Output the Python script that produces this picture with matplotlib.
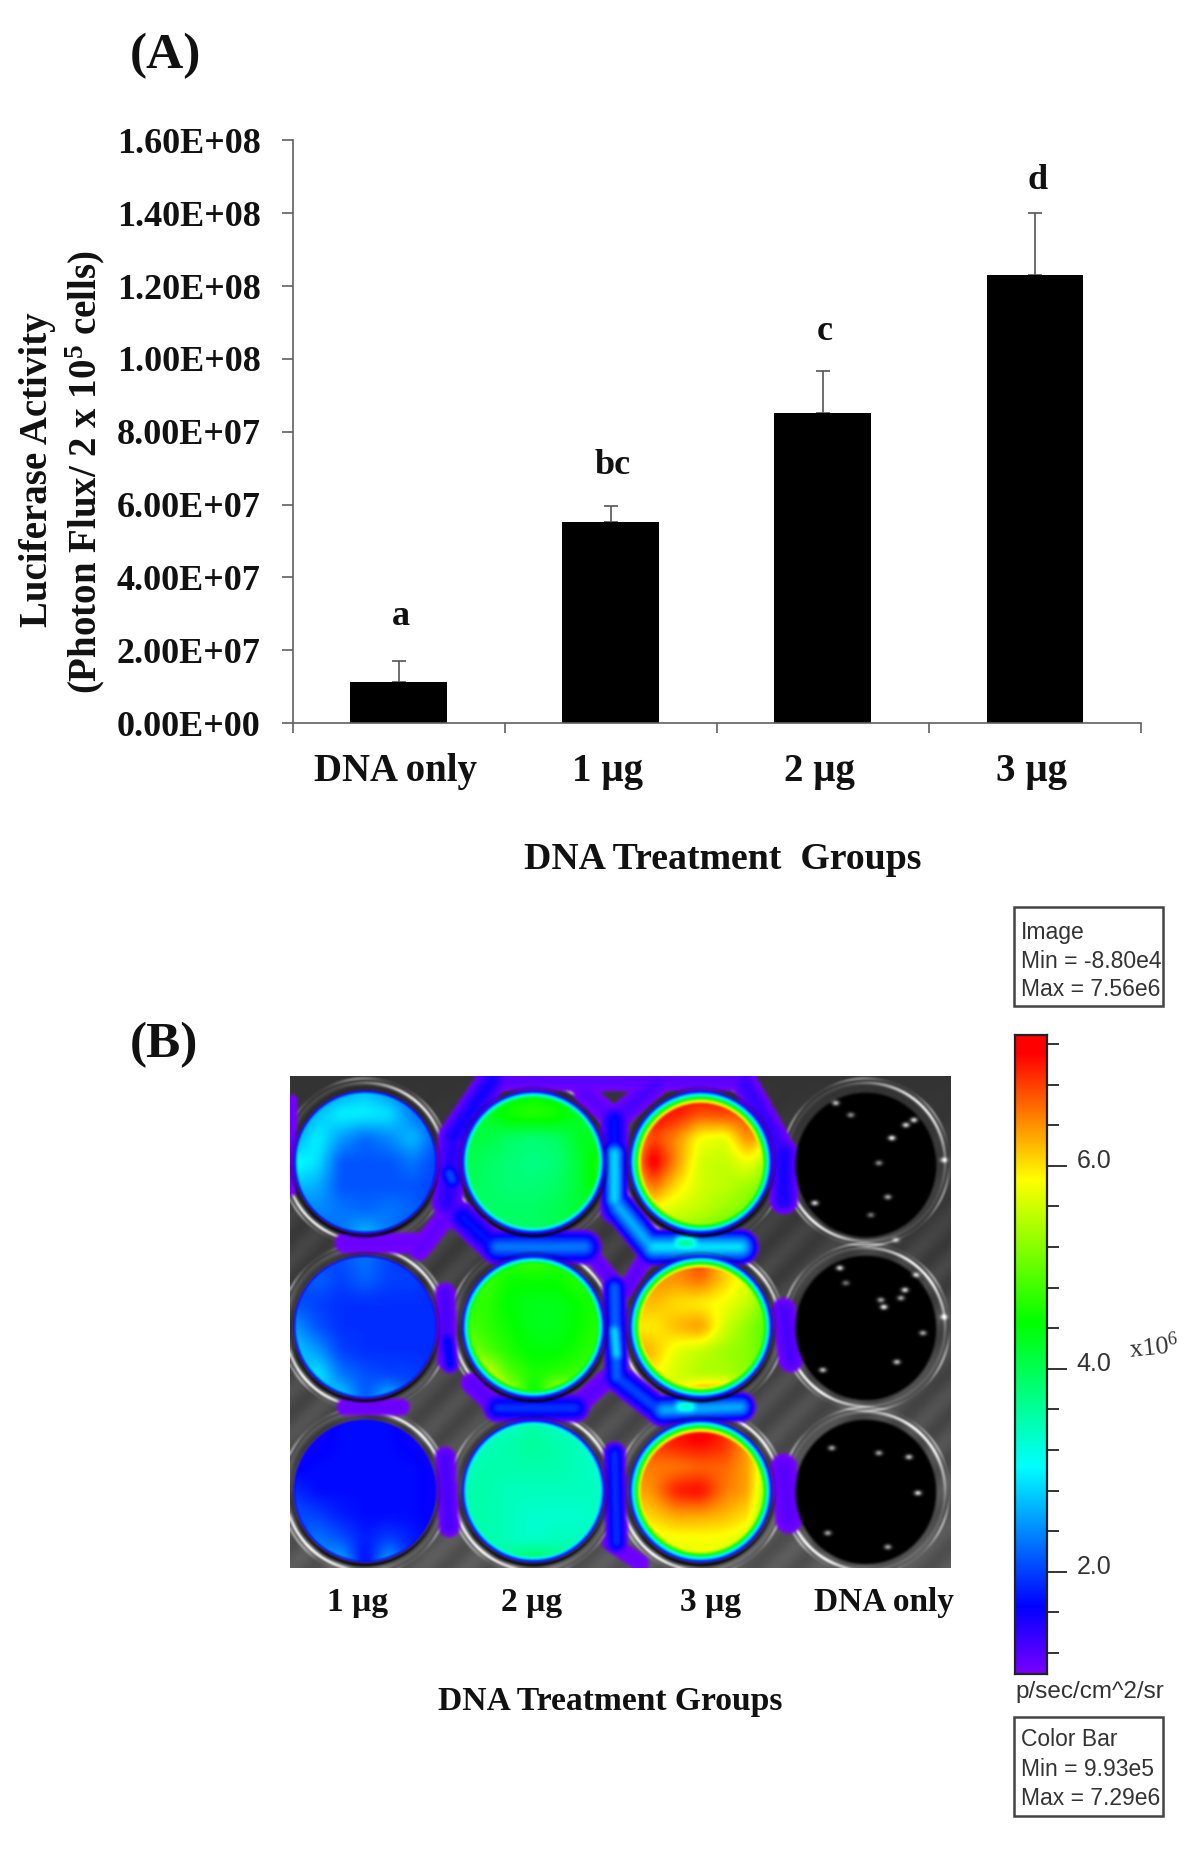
import numpy as np
import matplotlib
matplotlib.use('Agg')
import matplotlib.pyplot as plt
from matplotlib.colors import LinearSegmentedColormap, Normalize
from matplotlib.patches import Rectangle
from matplotlib.transforms import ScaledTranslation

W, H = 1200, 1851
SERIF = 'Liberation Serif'
SANS = 'Liberation Sans'

# panel A
groups = ['DNA only', '1 µg', '2 µg', '3 µg']
activity = [1.12e7, 5.53e7, 8.51e7, 1.23e8]
err_top = [1.70e7, 5.95e7, 9.68e7, 1.40e8]
sig_letters = ['a', 'bc', 'c', 'd']
sig_y = [2.92e7, 7.08e7, 1.075e8, 1.49e8]
y_ticks = [0, 2e7, 4e7, 6e7, 8e7, 1e8, 1.2e8, 1.4e8, 1.6e8]
y_tick_labels = ['0.00E+00', '2.00E+07', '4.00E+07', '6.00E+07', '8.00E+07',
                 '1.00E+08', '1.20E+08', '1.40E+08', '1.60E+08']

# panel B, colour bar
bar_min, bar_max = 0.993, 7.29
major_ticks = [2.0, 4.0, 6.0]
minor_ticks = [1.2, 1.6, 2.4, 2.8, 3.2, 3.6, 4.4, 4.8, 5.2, 5.6, 6.4, 6.8, 7.2]
cmap_vals = [0.993, 1.65, 3.03, 4.45, 5.86, 7.1, 7.29]
cmap_cols = ['#7a00ff', '#0000ff', '#00ffff', '#00ff00', '#ffff00', '#ff0000', '#ff0000']

# panel B, plate wells (x10^6), rows run top to bottom of each well
well_cx = [365, 533, 700]
well_cy = [1162, 1327, 1491]
well_rx, well_ry = 72, 72
dark_cx = 865
dark_cy = [1165, 1328, 1492]

w_1_1 = [[2.0, 2.2, 2.5, 2.7, 2.4, 2.1, 1.9],
         [2.2, 2.7, 3.0, 3.0, 2.9, 2.3, 2.0],
         [2.5, 3.0, 2.5, 2.2, 2.4, 2.7, 2.1],
         [3.1, 2.9, 2.1, 2.1, 2.1, 2.3, 2.0],
         [2.7, 2.6, 2.1, 2.1, 2.1, 2.1, 2.0],
         [2.2, 2.4, 2.3, 2.2, 2.3, 2.2, 1.9],
         [1.9, 2.1, 2.3, 2.7, 2.3, 2.0, 1.8]]
w_1_2 = [[1.8, 1.9, 2.1, 2.3, 2.0, 1.9, 1.8],
         [1.9, 2.2, 2.0, 2.2, 2.0, 2.0, 1.8],
         [2.1, 2.0, 1.9, 1.9, 1.9, 1.9, 1.9],
         [2.5, 2.1, 1.9, 1.9, 1.9, 1.9, 1.9],
         [2.8, 2.5, 2.0, 1.9, 1.9, 1.9, 1.9],
         [2.4, 3.0, 2.3, 2.1, 2.0, 2.0, 1.8],
         [1.9, 2.5, 2.9, 2.1, 2.8, 2.0, 1.7]]
w_1_3 = [[1.4, 1.5, 1.7, 1.7, 1.7, 1.5, 1.4],
         [1.5, 1.6, 1.7, 1.7, 1.7, 1.6, 1.5],
         [1.6, 1.7, 1.7, 1.7, 1.7, 1.7, 1.6],
         [1.9, 1.7, 1.7, 1.7, 1.7, 1.7, 1.6],
         [2.1, 2.0, 1.8, 1.7, 1.7, 1.7, 1.6],
         [2.0, 2.3, 2.1, 1.8, 2.0, 1.8, 1.6],
         [1.7, 2.4, 2.7, 1.6, 2.7, 1.7, 1.4]]
w_2_1 = [[3.6, 3.9, 4.2, 4.4, 4.2, 3.9, 3.7],
         [3.9, 4.2, 4.6, 4.7, 4.6, 4.2, 4.0],
         [4.1, 4.1, 3.9, 3.8, 3.9, 4.3, 4.2],
         [4.1, 3.9, 3.8, 3.7, 3.8, 4.2, 4.8],
         [4.0, 3.9, 3.8, 3.8, 3.9, 4.2, 4.7],
         [3.9, 3.9, 3.9, 3.9, 4.0, 4.2, 4.1],
         [3.7, 3.8, 3.9, 3.9, 4.0, 4.0, 3.8]]
w_2_2 = [[4.4, 4.6, 4.7, 4.9, 4.7, 4.6, 4.4],
         [4.6, 4.8, 4.5, 4.5, 4.5, 4.7, 4.6],
         [4.7, 4.7, 4.4, 4.3, 4.3, 4.5, 4.6],
         [4.9, 4.7, 4.5, 4.3, 4.3, 4.5, 4.7],
         [5.4, 4.9, 4.6, 4.4, 4.4, 4.6, 4.8],
         [5.6, 5.8, 4.9, 4.6, 4.7, 4.8, 4.9],
         [5.0, 6.5, 5.9, 4.2, 5.9, 5.4, 4.7]]
w_2_3 = [[3.0, 3.2, 3.3, 3.5, 3.3, 3.2, 3.0],
         [3.2, 3.4, 3.5, 3.6, 3.5, 3.4, 3.2],
         [3.4, 3.5, 3.5, 3.5, 3.5, 3.4, 3.3],
         [3.5, 3.5, 3.4, 3.4, 3.4, 3.4, 3.4],
         [3.5, 3.5, 3.4, 3.3, 3.3, 3.3, 3.4],
         [3.5, 3.5, 3.4, 3.3, 3.4, 3.4, 3.5],
         [3.6, 3.6, 3.7, 4.1, 3.8, 3.6, 3.5]]
w_3_1 = [[5.3, 6.3, 7.0, 7.2, 7.0, 6.0, 5.0],
         [6.0, 7.1, 7.0, 6.7, 6.8, 6.7, 5.4],
         [5.8, 6.8, 6.4, 5.8, 5.7, 6.5, 5.8],
         [5.8, 7.3, 6.4, 5.6, 5.5, 5.8, 5.2],
         [5.6, 6.6, 6.0, 5.6, 5.5, 5.3, 5.0],
         [5.4, 5.8, 5.6, 5.5, 5.3, 5.1, 4.7],
         [4.9, 5.2, 5.3, 5.1, 4.9, 4.6, 4.3]]
w_3_2 = [[5.0, 5.6, 6.3, 6.9, 6.0, 5.3, 4.6],
         [5.6, 6.4, 6.4, 6.6, 6.1, 5.7, 5.0],
         [6.1, 6.2, 6.0, 5.9, 5.8, 5.5, 4.9],
         [6.0, 5.9, 6.2, 6.4, 5.6, 5.2, 4.8],
         [6.4, 6.2, 5.7, 5.5, 5.3, 5.2, 4.8],
         [6.0, 5.9, 5.6, 5.4, 5.4, 5.2, 4.8],
         [5.3, 5.6, 5.8, 6.9, 6.9, 5.4, 4.6]]
w_3_3 = [[5.4, 6.3, 6.9, 7.3, 6.8, 5.6, 4.7],
         [6.2, 6.8, 7.0, 7.1, 6.9, 6.3, 5.1],
         [6.5, 6.5, 6.5, 6.6, 6.6, 6.3, 5.1],
         [6.2, 6.4, 7.0, 7.1, 6.5, 6.3, 4.9],
         [5.9, 6.1, 6.3, 6.3, 6.2, 6.0, 4.8],
         [5.5, 5.7, 5.8, 5.8, 5.8, 5.6, 4.8],
         [5.0, 5.5, 5.7, 5.8, 5.7, 5.3, 4.6]]
well_grids = [[w_1_1, w_2_1, w_3_1], [w_1_2, w_2_2, w_3_2], [w_1_3, w_2_3, w_3_3]]

# glow between the wells: x0, y0, x1, y1, half width, peak (x10^6), ref pixels
web_segments = [
    (492, 1080, 744, 1080, 11, 1.2), (492, 1080, 453, 1137, 15, 1.6),
    (453, 1137, 447, 1203, 15, 1.5), (462, 1217, 497, 1250, 15, 1.8),
    (584, 1093, 614, 1120, 11, 1.2), (614, 1120, 657, 1083, 12, 1.3),
    (744, 1083, 783, 1153, 13, 1.4), (783, 1153, 783, 1200, 14, 1.6),
    (614, 1120, 614, 1210, 14, 1.8), (614, 1153, 614, 1200, 13, 3.0),
    (618, 1207, 653, 1250, 16, 2.7), (497, 1247, 584, 1247, 17, 2.4),
    (653, 1247, 740, 1247, 18, 3.0), (680, 1243, 690, 1243, 12, 3.9),
    (345, 1243, 419, 1243, 10, 1.1), (419, 1250, 453, 1207, 10, 1.15),
    (449, 1173, 452, 1180, 10, 2.2), (584, 1247, 620, 1290, 8, 1.2),
    (625, 1290, 650, 1250, 8, 1.2), (445, 1293, 447, 1360, 10, 1.3),
    (447, 1340, 450, 1365, 8, 1.8), (614, 1287, 616, 1377, 12, 2.3),
    (614, 1330, 616, 1355, 9, 3.1), (783, 1310, 790, 1360, 12, 1.3),
    (616, 1377, 662, 1413, 14, 2.1), (471, 1383, 497, 1408, 10, 1.2),
    (497, 1408, 575, 1408, 14, 2.0), (575, 1407, 605, 1380, 10, 1.2),
    (662, 1410, 740, 1407, 15, 2.7), (680, 1407, 690, 1407, 11, 3.6),
    (345, 1407, 401, 1407, 8, 1.1), (445, 1457, 449, 1527, 10, 1.3),
    (614, 1453, 616, 1543, 11, 2.0), (783, 1467, 788, 1520, 13, 1.2),
    (610, 1543, 640, 1563, 8, 1.1), (292, 1100, 292, 1190, 5, 1.1),
]

# glints in the empty wells, ref pixels
glints_x = [891, 835, 913, 814, 887, 878, 943, 839, 883, 904, 896, 822, 943, 922,
            831, 878, 917, 827, 887, 908, 905, 850, 870, 895, 880, 900, 915, 845]
glints_y = [1138, 1103, 1120, 1203, 1197, 1163, 1160, 1268, 1307, 1290, 1362, 1370,
            1317, 1333, 1448, 1453, 1493, 1533, 1547, 1457, 1125, 1115, 1215, 1240,
            1300, 1298, 1275, 1283]
glints_a = [1.0, 0.8, 0.9, 0.9, 0.7, 0.6, 0.7, 0.9, 1.0, 0.9, 0.8, 0.8, 0.7, 0.7,
            0.7, 0.7, 0.9, 0.7, 0.7, 0.8, 0.9, 0.6, 0.5, 0.5, 0.7, 0.7, 0.7, 0.5]

plt.rcParams['font.family'] = [SERIF, 'DejaVu Serif']
plt.rcParams['mathtext.default'] = 'regular'
fig = plt.figure(figsize=(W / 100, H / 100), dpi=100, facecolor='white')


def px_axes(x0, y0, x1, y1):
    return fig.add_axes([x0 / W, 1 - y1 / H, (x1 - x0) / W, (y1 - y0) / H])


# page layer, everything in reference pixels
page = fig.add_axes([0, 0, 1, 1])
page.set_xlim(0, W)
page.set_ylim(H, 0)
page.axis('off')

# panel A bars
ax = px_axes(292.6, 140.4, 1141, 723)
x = np.arange(len(groups))
vals = np.array(activity)
ax.errorbar(x, vals, yerr=[np.zeros(4), np.array(err_top) - vals], fmt='none',
            ecolor='#555555', elinewidth=1.2, capsize=5, capthick=1.2, zorder=1)
ax.bar(x, vals, width=0.456, color='black', zorder=2)
ax.set_xlim(-0.5, 3.5)
ax.set_ylim(0, 1.6e8)
for s in ['top', 'right']:
    ax.spines[s].set_visible(False)
for s in ['left', 'bottom']:
    ax.spines[s].set_color('#606060')
    ax.spines[s].set_linewidth(1.2)
ax.set_xticks(np.arange(-0.5, 4, 1))
ax.set_xticklabels([])
ax.set_yticks(y_ticks)
ax.set_yticklabels(y_tick_labels, fontsize=26, fontweight='bold')
ax.tick_params(axis='y', length=8, width=1.2, color='#606060', pad=15, labelcolor='#111111')
ax.tick_params(axis='x', length=7, width=1.2, color='#606060')
ax.patch.set_alpha(0)
for i, name in enumerate(groups):
    ax.text(i - 0.015, -1.34e7, name, ha='center', va='center', fontsize=28,
            fontweight='bold', color='#111111')
    ax.text(i + 0.01, sig_y[i], sig_letters[i], ha='center', va='center', fontsize=26,
            fontweight='bold', color='#111111')

page.text(165, 56, '(A)', ha='center', va='center', fontsize=37, fontweight='bold', color='#111111')
page.text(723, 859, 'DNA Treatment  Groups', ha='center', va='center', fontsize=27.2,
          fontweight='bold', color='#111111')
page.text(38, 470, 'Luciferase Activity', rotation=90, ha='center', va='center', fontsize=28,
          fontweight='bold', color='#111111')
page.text(85, 472, '(Photon Flux/ 2 x 10$^{5}$ cells)', rotation=90, ha='center', va='center',
          fontsize=28, fontweight='bold', color='#111111')

# colour scale shared by the plate and the bar
norm = Normalize(bar_min, bar_max)
stops = [(v - bar_min) / (bar_max - bar_min) for v in cmap_vals]
lumi = LinearSegmentedColormap.from_list('lumi', list(zip(stops, cmap_cols)), N=512)


def upsample(grid, u, v):
    # bilinear lookup of a well grid, u and v run from -1 to 1
    g = np.array(grid, dtype=float)
    n = g.shape[0]
    fx = np.clip((u + 1) / 2 * (n - 1), 0, n - 1.001)
    fy = np.clip((v + 1) / 2 * (n - 1), 0, n - 1.001)
    ix, iy = fx.astype(int), fy.astype(int)
    tx, ty = fx - ix, fy - iy
    out = (g[iy, ix] * (1 - tx) * (1 - ty) + g[iy, ix + 1] * tx * (1 - ty)
           + g[iy + 1, ix] * (1 - tx) * ty + g[iy + 1, ix + 1] * tx * ty)
    return out


def box_blur(a, k):
    kern = np.ones(k) / k
    pad = k
    for axis in (0, 1):
        a = np.apply_along_axis(lambda m: np.convolve(np.pad(m, pad, mode='edge'), kern, mode='same')[pad:-pad], axis, a)
    return a


# plate picture, composed in reference pixels
x0, x1, y0, y1 = 290, 950, 1076, 1568
xx, yy = np.meshgrid(np.arange(x0, x1) + 0.5, np.arange(y0, y1) + 0.5)
gray = 0.20 + 0.14 * (yy - y0) / (y1 - y0)
gray = gray + 0.03 * np.sin((xx + yy) / 7.0) * np.clip((yy - y0) / 200, 0, 1)
rgb = np.dstack([gray, gray, gray])

# bright dish rims, only the lower left and upper right catch the light
for cx in well_cx + [dark_cx]:
    for j, cy in enumerate(well_cy):
        r = np.hypot((xx - cx) / 74, (yy - cy) / 74)
        ang = np.arctan2(yy - cy, xx - cx)
        glow = np.exp(-((r - 1.07) / 0.02) ** 2) * (0.08 + 0.75 * np.cos(ang + 0.8) ** 4)
        glow += np.exp(-((r - 1.13) / 0.014) ** 2) * (0.06 + 0.4 * np.abs(np.sin(ang * 3 + 0.3)) ** 3)
        rgb = np.clip(rgb + glow[..., None], 0, 1)

# glow web
web = np.zeros_like(xx)
mask = np.zeros_like(xx)
for sx0, sy0, sx1, sy1, hw, peak in web_segments:
    dx, dy = sx1 - sx0, sy1 - sy0
    t = np.clip(((xx - sx0) * dx + (yy - sy0) * dy) / (dx * dx + dy * dy), 0, 1)
    d = np.hypot(xx - sx0 - t * dx, yy - sy0 - t * dy)
    f = np.clip(1 - d / hw, 0, 1)
    web = np.maximum(web, bar_min + (peak - bar_min) * f ** 0.7)
    mask = np.maximum(mask, (f > 0).astype(float))
web = box_blur(web, 7)
mask = np.clip(box_blur(mask, 5) * 1.2, 0, 1)
web_rgb = lumi(norm(web))[..., :3]
rgb = rgb * (1 - mask[..., None]) + web_rgb * mask[..., None]

# empty wells
dark_r = np.ones_like(xx) * 9
for cy in dark_cy:
    dark_r = np.minimum(dark_r, np.hypot((xx - dark_cx) / 71, (yy - cy) / 73))
rgb = rgb * np.clip((dark_r - 0.97) / 0.04, 0, 1)[..., None]
for gx, gy, ga in zip(glints_x, glints_y, glints_a):
    spot = ga * np.exp(-(((xx - gx) / 3.4) ** 2 + ((yy - gy) / 2.4) ** 2))
    rgb = np.clip(rgb + spot[..., None], 0, 1)

# signal wells
for j, cy in enumerate(well_cy):
    for i, cx in enumerate(well_cx):
        u = (xx - cx) / well_rx
        v = (yy - cy) / well_ry
        r = np.hypot(u, v)
        field = upsample(well_grids[j][i], np.clip(u, -1, 1), np.clip(v, -1, 1))
        field = box_blur(field, 13)
        val = np.minimum(field, bar_min + 0.1 + np.clip(1 - r, 0, 1) * 30)
        colour = lumi(norm(val))[..., :3]
        # dark ring hugging the lower edge of the dish
        ang = np.arctan2(v, u)
        ring = np.exp(-((r - 1.025) / 0.022) ** 2) * (0.25 + 0.75 * np.clip(np.sin(ang), 0, 1))
        rgb = rgb * (1 - ring[..., None])
        inside = np.clip((1.0 - r) / 0.012, 0, 1)[..., None]
        rgb = rgb * (1 - inside) + colour * inside

rgb = np.dstack([box_blur(rgb[..., c], 3) for c in range(3)])
ax_img = px_axes(x0, y0, x1, y1)
ax_img.imshow(rgb, extent=[x0, x1, y1, y0], interpolation='bilinear', aspect='auto')
ax_img.axis('off')

page.text(164, 1045, '(B)', ha='center', va='center', fontsize=37, fontweight='bold', color='#111111')
plate_labels = ['1 µg', '2 µg', '3 µg', 'DNA only']
plate_label_x = [358, 532, 711, 884]
for name, lx in zip(plate_labels, plate_label_x):
    page.text(lx, 1602, name, ha='center', va='center', fontsize=24, fontweight='bold', color='#111111')
page.text(610, 1701, 'DNA Treatment Groups', ha='center', va='center', fontsize=24.2,
          fontweight='bold', color='#111111')

# colour bar
ax_cb = px_axes(1015, 1035, 1047, 1674)
grad = np.linspace(bar_max, bar_min, 512)[:, None]
ax_cb.imshow(grad, cmap=lumi, norm=norm, aspect='auto', extent=[0, 1, bar_min, bar_max])
ax_cb.set_xticks([])
ax_cb.yaxis.tick_right()
ax_cb.set_yticks(major_ticks)
ax_cb.set_yticklabels(['%.1f' % t for t in major_ticks], fontsize=18, family=SANS, color='#333333')
ax_cb.set_yticks(minor_ticks, minor=True)
ax_cb.tick_params(axis='y', which='major', length=14.5, width=1.4, color='#333333', pad=7)
ax_cb.tick_params(axis='y', which='minor', length=8.5, width=1.4, color='#333333')
# the scale labels sit a little above their ticks
lift = ScaledTranslation(0, 7 / 100, fig.dpi_scale_trans)
for lab in ax_cb.get_yticklabels():
    lab.set_transform(lab.get_transform() + lift)
for s in ax_cb.spines.values():
    s.set_linewidth(1.6)
    s.set_color('#222222')

page.text(1127, 1347, 'x10$^{6}$', rotation=6, ha='left', va='center', fontsize=19, color='#333333')
page.text(1015, 1692, 'p/sec/cm^2/sr', ha='left', va='center', fontsize=17.5, family=SANS, color='#333333')


def info_box(top, lines, ys):
    page.add_patch(Rectangle((1014, top), 149, 99, fc='white', ec='#444444', lw=1.8))
    for line, ly in zip(lines, ys):
        page.text(1021, ly, line, ha='left', va='center', fontsize=16.5, family=SANS, color='#333333')


info_box(907, ['Image', 'Min = -8.80e4', 'Max = 7.56e6'], [932, 961, 989])
info_box(1717, ['Color Bar', 'Min = 9.93e5', 'Max = 7.29e6'], [1739, 1769, 1798])

fig.savefig('out.png', dpi=100, facecolor='white')
